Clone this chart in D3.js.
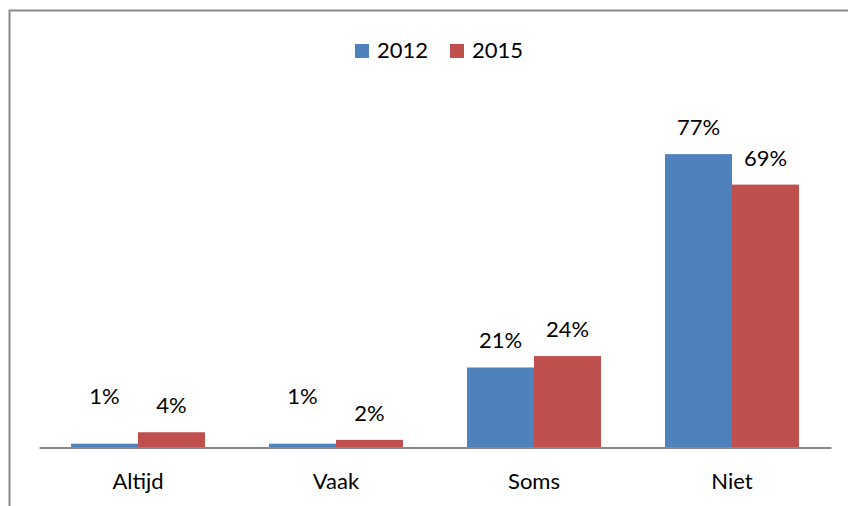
<!DOCTYPE html>
<html lang="nl">
<head>
  <meta charset="UTF-8">
  <title>Chart</title>
  <script src="https://cdnjs.cloudflare.com/ajax/libs/d3/7.8.5/d3.min.js"></script>
  <style>
    body { margin: 0; background: #fff; }
    text { font-family: Lato, "Open Sans", sans-serif; fill: #000; }
  </style>
</head>
<body>
<div id="chart"></div>
<script>
  var categories = ["Altijd", "Vaak", "Soms", "Niet"]
  var series = ["2012", "2015"]
  var values2012 = [1, 1, 21, 77]
  var values2015 = [4, 2, 24, 69]
  var colors = ["#4F81BD", "#C0504D"]

  var width = 848, height = 506

  var svg = d3.select("#chart").append("svg")
      .attr("width", width)
      .attr("height", height)

  // outer frame (only left and top are in view)
  svg.append("path")
      .attr("d", "M9.5,506 L9.5,10.5 L848,10.5")
      .style("fill", "none")
      .style("stroke", "#898989")
      .style("stroke-width", 2)

  var x = d3.scaleBand().domain(categories).range([39, 831])
  var x1 = d3.scaleBand().domain(series).range([0, x.bandwidth()]).paddingOuter(0.478)
  var y = d3.scaleLinear().domain([0, 90]).range([447.5, 447.5 - 90 * 3.81])

  var rows = categories.map(function(c, i) {
    return {cat: c, vals: [values2012[i], values2015[i]]}
  })

  var groups = svg.selectAll("g.cat").data(rows).enter().append("g")
      .attr("class", "cat")
      .attr("transform", function(d) { return "translate(" + x(d.cat) + ",0)" })

  groups.selectAll("rect").data(function(d) { return d.vals }).enter().append("rect")
      .attr("x", function(d, i) { return x1(series[i]) })
      .attr("y", function(d) { return y(d) })
      .attr("width", x1.bandwidth())
      .attr("height", function(d) { return y(0) - y(d) })
      .style("fill", function(d, i) { return colors[i] })

  groups.selectAll("text.lab").data(function(d) { return d.vals }).enter().append("text")
      .attr("class", "lab")
      .attr("x", function(d, i) { return x1(series[i]) + x1.bandwidth() / 2 })
      .attr("y", function(d) { return y(d) - 19 - (d < 2 ? 21 : 0) })
      .attr("text-anchor", "middle")
      .style("font-size", "22px")
      .text(function(d) { return d + "%" })

  // axis line + category labels
  var xAxis = svg.append("g").attr("transform", "translate(0," + y(0) + ")")
      .call(d3.axisBottom(x).tickSize(0).tickPadding(26))
  xAxis.select(".domain").attr("stroke", "#898989").attr("stroke-width", 2)
  xAxis.selectAll("text").style("font-size", "22px").style("font-family", "Lato, sans-serif")

  // legend
  var legend = svg.append("g")
  var legX = [355, 450]
  series.forEach(function(s, i) {
    legend.append("rect")
        .attr("x", legX[i]).attr("y", 44)
        .attr("width", 14).attr("height", 14)
        .style("fill", colors[i])
    legend.append("text")
        .attr("x", legX[i] + 22).attr("y", 58)
        .style("font-size", "22px")
        .text(s)
  })
</script>
</body>
</html>
